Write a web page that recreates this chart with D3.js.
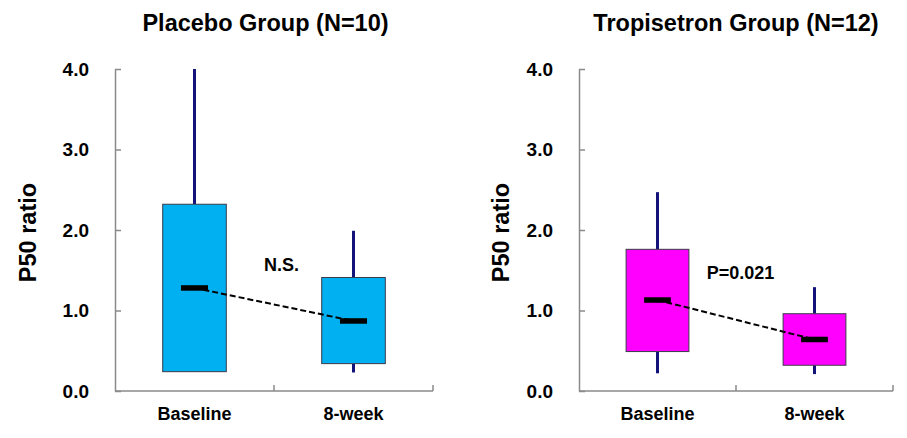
<!DOCTYPE html>
<html>
<head>
<meta charset="utf-8">
<script src="https://cdn.jsdelivr.net/npm/d3@7"></script>
<style>
  html, body { margin: 0; padding: 0; background: #fff; }
  svg { display: block; font-family: "Liberation Sans", Arial, sans-serif; }
</style>
</head>
<body>
<svg id="chart" width="907" height="438"></svg>
<script>
// ---- Data ----
const categories = ["Baseline", "8-week"];
const yTicks = [0, 1, 2, 3, 4];
const yTickLabels = ["0.0", "1.0", "2.0", "3.0", "4.0"];

const placeboTitle = "Placebo Group (N=10)";
const placeboMin    = [0.24, 0.23];
const placeboQ1     = [0.24, 0.34];
const placeboMedian = [1.28, 0.87];
const placeboQ3     = [2.32, 1.41];
const placeboMax    = [4.00, 1.99];
const placeboNote   = "N.S.";

const tropTitle = "Tropisetron Group (N=12)";
const tropMin    = [0.22, 0.21];
const tropQ1     = [0.49, 0.32];
const tropMedian = [1.13, 0.64];
const tropQ3     = [1.76, 0.96];
const tropMax    = [2.47, 1.29];
const tropNote   = "P=0.021";

const yLabel = "P50 ratio";

// ---- Drawing ----
const svg = d3.select("#chart");

function drawPanel(opt) {
  const g = svg.append("g");
  const x = d3.scaleBand().domain(categories).range([opt.x0, opt.x1]).padding(0);
  const y = d3.scaleLinear().domain([0, 4]).range([391, 69]);
  const bw = x.bandwidth();
  const cx = c => x(c) + bw / 2;
  const boxW = bw * 0.40;
  const medW = bw * 0.17;

  const rows = categories.map((c, i) => ({
    c, min: opt.min[i], q1: opt.q1[i], med: opt.med[i], q3: opt.q3[i], max: opt.max[i]
  }));

  // Y axis
  const yAxis = d3.axisLeft(y).tickValues(yTicks)
    .tickFormat((d, i) => yTickLabels[i])
    .tickSizeInner(-6).tickSizeOuter(0).tickPadding(26);
  const ya = g.append("g").attr("transform", `translate(${opt.x0},0)`).call(yAxis);
  ya.select(".domain").attr("stroke", "#8a8a8a").attr("stroke-width", 1.5);
  ya.selectAll(".tick line").attr("stroke", "#8a8a8a").attr("stroke-width", 1.5);
  ya.selectAll(".tick text").attr("fill", "#000")
    .style("font-size", "19px").style("font-weight", "bold")
    .style("font-family", "'Liberation Sans', Arial, sans-serif");

  // X axis line with boundary ticks
  g.append("line").attr("x1", opt.x0).attr("x2", opt.x1)
    .attr("y1", y(0)).attr("y2", y(0))
    .attr("stroke", "#8a8a8a").attr("stroke-width", 1.5);
  const bounds = categories.slice(1).map(c => x(c)).concat([opt.x1]);
  g.selectAll(".xtick").data(bounds).enter().append("line")
    .attr("x1", d => d).attr("x2", d => d)
    .attr("y1", y(0)).attr("y2", y(0) - 6)
    .attr("stroke", "#8a8a8a").attr("stroke-width", 1.5);
  g.selectAll(".xlab").data(categories).enter().append("text")
    .attr("x", d => cx(d)).attr("y", 420)
    .attr("text-anchor", "middle")
    .style("font-size", "18px").style("font-weight", "bold")
    .text(d => d);

  // Whiskers
  g.selectAll(".wup").data(rows).enter().append("line")
    .attr("x1", d => cx(d.c)).attr("x2", d => cx(d.c))
    .attr("y1", d => y(d.q3)).attr("y2", d => y(d.max))
    .attr("stroke", "#13137a").attr("stroke-width", 3);
  g.selectAll(".wdn").data(rows).enter().append("line")
    .attr("x1", d => cx(d.c)).attr("x2", d => cx(d.c))
    .attr("y1", d => y(d.q1)).attr("y2", d => y(d.min))
    .attr("stroke", "#13137a").attr("stroke-width", 3);

  // Boxes
  g.selectAll(".box").data(rows).enter().append("rect")
    .attr("x", d => cx(d.c) - boxW / 2).attr("width", boxW)
    .attr("y", d => y(d.q3)).attr("height", d => y(d.q1) - y(d.q3))
    .attr("fill", opt.color).attr("stroke", "#3a3a4a").attr("stroke-width", 1);

  // Dashed line between medians
  g.append("line")
    .attr("x1", cx(rows[0].c)).attr("y1", y(rows[0].med))
    .attr("x2", cx(rows[1].c)).attr("y2", y(rows[1].med))
    .attr("stroke", "#000").attr("stroke-width", 2).attr("stroke-dasharray", "6,3");

  // Median bars
  g.selectAll(".med").data(rows).enter().append("rect")
    .attr("x", d => cx(d.c) - medW / 2).attr("width", medW)
    .attr("y", d => y(d.med) - 2.75).attr("height", 5.5)
    .attr("fill", "#000");

  // Annotation
  g.append("text").attr("x", opt.noteX).attr("y", opt.noteY)
    .attr("text-anchor", "middle")
    .style("font-size", "18px").style("font-weight", "bold")
    .text(opt.note);

  // Title
  g.append("text").attr("x", opt.titleX).attr("y", 31)
    .attr("text-anchor", "middle")
    .style("font-size", "23.5px").style("font-weight", "bold")
    .text(opt.title);

  // Y label
  g.append("text")
    .attr("transform", `translate(${opt.yLabX},232.5) rotate(-90)`)
    .attr("text-anchor", "middle").attr("dominant-baseline", "central")
    .style("font-size", "23.5px").style("font-weight", "bold")
    .text(yLabel);
}

drawPanel({
  x0: 115, x1: 433, color: "#00B0F0",
  min: placeboMin, q1: placeboQ1, med: placeboMedian, q3: placeboQ3, max: placeboMax,
  note: placeboNote, noteX: 281.5, noteY: 271,
  title: placeboTitle, titleX: 265.5, yLabX: 28
});

drawPanel({
  x0: 579, x1: 893, color: "#FF00FF",
  min: tropMin, q1: tropQ1, med: tropMedian, q3: tropQ3, max: tropMax,
  note: tropNote, noteX: 740.5, noteY: 279,
  title: tropTitle, titleX: 736, yLabX: 501
});
</script>
</body>
</html>
